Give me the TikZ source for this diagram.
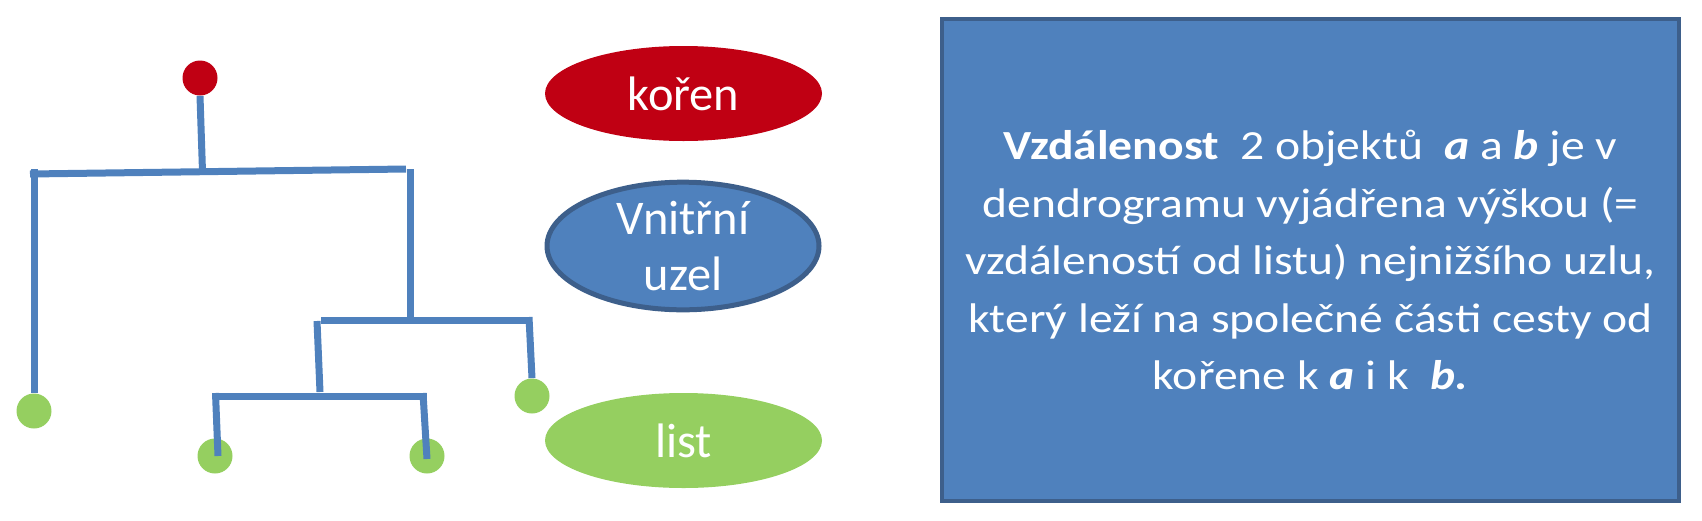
\documentclass[tikz,border=0pt]{standalone}
\usepackage{fontspec}
\setmainfont{Carlito}
\newfontfamily\widefont[FakeStretch=1.15]{Carlito}
\usetikzlibrary{shapes.geometric}

\definecolor{rootred}{HTML}{C00013}
\definecolor{nodeblue}{HTML}{4F81BD}
\definecolor{nodeedge}{HTML}{3D5F8B}
\definecolor{leafgreen}{HTML}{95CF60}

\begin{document}
\begin{tikzpicture}[
  x=0.5pt, y=-0.5pt,
  dot/.style={circle, inner sep=0pt, minimum size=17.5pt},
  rootdot/.style={dot, fill=rootred},
  leafdot/.style={dot, fill=leafgreen},
  branch/.style={draw=nodeblue, line width=3.5pt},
  legend/.style={
    ellipse,
    minimum width=138.5pt,
    minimum height=47.5pt,
    inner sep=0pt,
    text=white,
    align=center,
    font=\fontsize{24.2}{28.3}\selectfont
  },
  infobox/.style={
    rectangle,
    fill=nodeblue,
    draw=nodeedge,
    line width=2pt,
    minimum width=368.5pt,
    minimum height=241pt,
    text=white,
    align=center,
    font=\widefont\fontsize{20.7}{28.75}\selectfont
  }
]
\useasboundingbox (0,0) rectangle (1702,520);

% dendrogram
\node[rootdot] (root) at (200,78) {};
\node[leafdot] (leafA) at (34,411) {};
\node[leafdot] (leafB) at (215,456) {};
\node[leafdot] (leafC) at (427,456) {};
\node[leafdot] (leafD) at (532,396) {};

\coordinate (top1) at (30,174);
\coordinate (top2) at (406,169);
\coordinate (topM) at (202.5,171.5);
\coordinate (armA) at (34,169);
\coordinate (armR1) at (410.5,169);
\coordinate (armR2) at (410.5,317);
\coordinate (mid1) at (321,320);
\coordinate (mid2) at (532,320);
\coordinate (armD) at (529,317);
\coordinate (armL1) at (317,321);
\coordinate (armL2) at (320,392);
\coordinate (low1) at (212.5,396);
\coordinate (low2) at (427,396);
\coordinate (armB) at (215.5,393);
\coordinate (armC) at (423,393);

\draw[branch] (root.south) -- (topM);
\draw[branch] (top1) -- (top2);
\draw[branch] (armA) -- (leafA.north);
\draw[branch] (armR1) -- (armR2);
\draw[branch] (mid1) -- (mid2);
\draw[branch] (armD) -- (leafD.north);
\draw[branch] (armL1) -- (armL2);
\draw[branch] (low1) -- (low2);
\draw[branch] (armB) -- ([xshift=1.5pt]leafB.center);
\draw[branch] (armC) -- ([yshift=-1.5pt]leafC.center);

% legend
\node[legend, fill=rootred] (koren) at (683.5,93.5) {kořen};
\node[legend, fill=nodeblue, draw=nodeedge, line width=2.5pt,
  minimum width=136pt, minimum height=59.5pt] (vnitrni) at (683,246) {Vnitřní\\uzel};
\node[legend, fill=leafgreen] (list) at (683.5,440.5) {list};

% definition
\node[infobox] (definice) at (1310.5,260)
  {\textbf{Vzdálenost}\ \ 2 objektů\ \ \textbf{\textit{a}} a \textbf{\textit{b}} je v\\
   dendrogramu vyjádřena výškou (=\\
   vzdáleností od listu) nejnižšího uzlu,\\
   který leží na společné části cesty od\\
   kořene k \textbf{\textit{a}} i k\ \ \textbf{\textit{b.}}};

\end{tikzpicture}
\end{document}
